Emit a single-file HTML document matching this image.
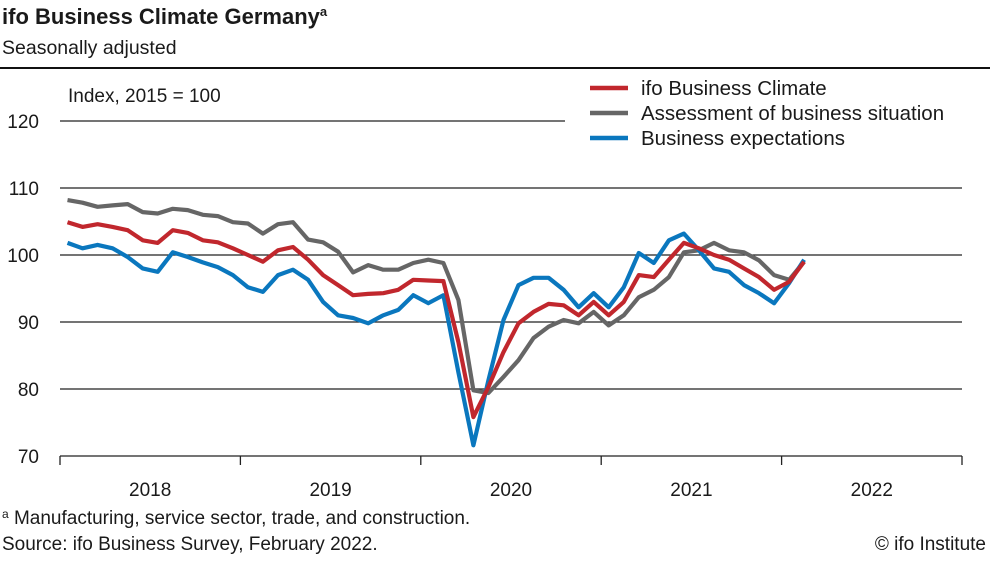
<!DOCTYPE html>
<html><head><meta charset="utf-8">
<style>
html,body{margin:0;padding:0;background:#fff;}
body{width:990px;height:557px;overflow:hidden;font-family:"Liberation Sans",sans-serif;}
svg text{font-family:"Liberation Sans",sans-serif;fill:#1a1a1a;}
</style></head>
<body>
<svg id="chart" width="990" height="557" viewBox="0 0 990 557">
  <text x="2" y="24" font-size="22" font-weight="bold">ifo Business Climate Germany<tspan font-size="13" dy="-8">a</tspan></text>
  <text x="2" y="54" font-size="19.5">Seasonally adjusted</text>
  <line x1="0" y1="68" x2="990" y2="68" stroke="#111" stroke-width="2"/>
  <text x="68" y="102" font-size="19">Index, 2015 = 100</text>
  <g id="grid"></g>
  <g id="yticks"></g>
  <g id="xaxis"></g>
  <g id="series"></g>
  <g id="legend"></g>
  <text x="2" y="524" font-size="19"><tspan font-size="12" dy="-6">a</tspan><tspan dy="6"> Manufacturing, service sector, trade, and construction.</tspan></text>
  <text x="2" y="550" font-size="19">Source: ifo Business Survey, February 2022.</text>
  <text x="986" y="550" font-size="19" text-anchor="end">© ifo Institute</text>
</svg>
<script>
const yTicks = [70, 80, 90, 100, 110, 120];
const years = ["2018", "2019", "2020", "2021", "2022"];
const climate = [104.9,104.2,104.6,104.2,103.7,102.2,101.8,103.7,103.3,102.2,101.9,101.0,
 100.0,99.0,100.7,101.2,99.3,97.0,95.5,94.0,94.2,94.3,94.8,96.3,
 96.2,96.1,87.0,75.8,80.3,85.5,89.8,91.5,92.7,92.5,91.0,93.0,
 91.0,93.0,97.0,96.7,99.3,101.8,101.0,100.0,99.3,98.0,96.7,94.8,
 96.0,99.0];
const situation = [108.2,107.8,107.2,107.4,107.6,106.4,106.2,106.9,106.7,106.0,105.8,104.9,
 104.7,103.2,104.6,104.9,102.3,101.9,100.5,97.4,98.5,97.8,97.8,98.8,
 99.3,98.8,93.3,79.8,79.4,81.8,84.3,87.6,89.3,90.3,89.8,91.5,
 89.5,91.0,93.7,94.8,96.7,100.4,100.7,101.8,100.7,100.4,99.2,97.0,
 96.3,99.0];
const expectations = [101.8,101.0,101.5,101.0,99.7,98.0,97.5,100.4,99.7,98.9,98.2,97.0,
 95.2,94.5,97.0,97.8,96.3,93.0,91.0,90.6,89.8,91.0,91.8,94.0,
 92.8,94.0,82.5,71.6,81.3,90.3,95.5,96.6,96.6,94.8,92.2,94.3,
 92.2,95.2,100.3,98.8,102.2,103.2,100.7,98.0,97.5,95.5,94.3,92.8,
 95.8,99.3];
const seriesNames = ["ifo Business Climate", "Assessment of business situation", "Business expectations"];

const NS = "http://www.w3.org/2000/svg";
const X0 = 60, X1 = 962, Y70 = 456, PX10 = 67;
const monthW = (X1 - X0) / 60;
function xPos(i){ return X0 + (i + 0.5) * monthW; }
function yPos(v){ return Y70 - (v - 70) * PX10 / 10; }
function mk(tag, attrs, parent){
  const e = document.createElementNS(NS, tag);
  for (const k in attrs) e.setAttribute(k, attrs[k]);
  parent.appendChild(e); return e;
}
const grid = document.getElementById('grid');
const yt = document.getElementById('yticks');
yTicks.forEach(v => {
  const y = yPos(v);
  if (v > 70) {
    const l = mk('line', {x1: X0, y1: y, x2: v === 120 ? 565 : X1, y2: y, stroke: '#222', 'stroke-width': 1.3}, grid);
    
    
  }
  const t = mk('text', {x: 39, y: y + 7, 'font-size': 19, 'text-anchor': 'end'}, yt);
  t.textContent = v;
  
  
});
const xa = document.getElementById('xaxis');
const ax = mk('line', {x1: X0, y1: Y70, x2: X1, y2: Y70, stroke: '#222', 'stroke-width': 1.3}, xa);


for (let k = 0; k <= years.length; k++) {
  const x = X0 + k * 12 * monthW;
  const tk = mk('line', {x1: x, y1: Y70, x2: x, y2: Y70 + 9, stroke: '#222', 'stroke-width': 1.3}, xa);
  
  
}
years.forEach((yr, k) => {
  const t = mk('text', {x: X0 + (k * 12 + 6) * monthW, y: 496, 'font-size': 19, 'text-anchor': 'middle'}, xa);
  t.textContent = yr;
  
  
});
const sg = document.getElementById('series');
const defs = [[situation, '#666666', 'situation-line'], [expectations, '#0a77be', 'expectations-line'], [climate, '#c1272d', 'climate-line']];
defs.forEach(([arr, col, nm]) => {
  const d = arr.map((v, i) => (i ? 'L' : 'M') + xPos(i).toFixed(1) + ',' + yPos(v).toFixed(1)).join('');
  const p = mk('path', {d: d, fill: 'none', stroke: col, 'stroke-width': 4.2, 'stroke-linejoin': 'round'}, sg);
  
  
});
const lg = document.getElementById('legend');
const lcols = ['#c1272d', '#666666', '#0a77be'];
seriesNames.forEach((n, i) => {
  const y = 88 + i * 25;
  const l = mk('line', {x1: 590, y1: y, x2: 628, y2: y, stroke: lcols[i], 'stroke-width': 4.5}, lg);
  
  
  const t = mk('text', {x: 641, y: y + 7, 'font-size': 20.5}, lg);
  t.textContent = n;
  
  
});
</script>
</body></html>
